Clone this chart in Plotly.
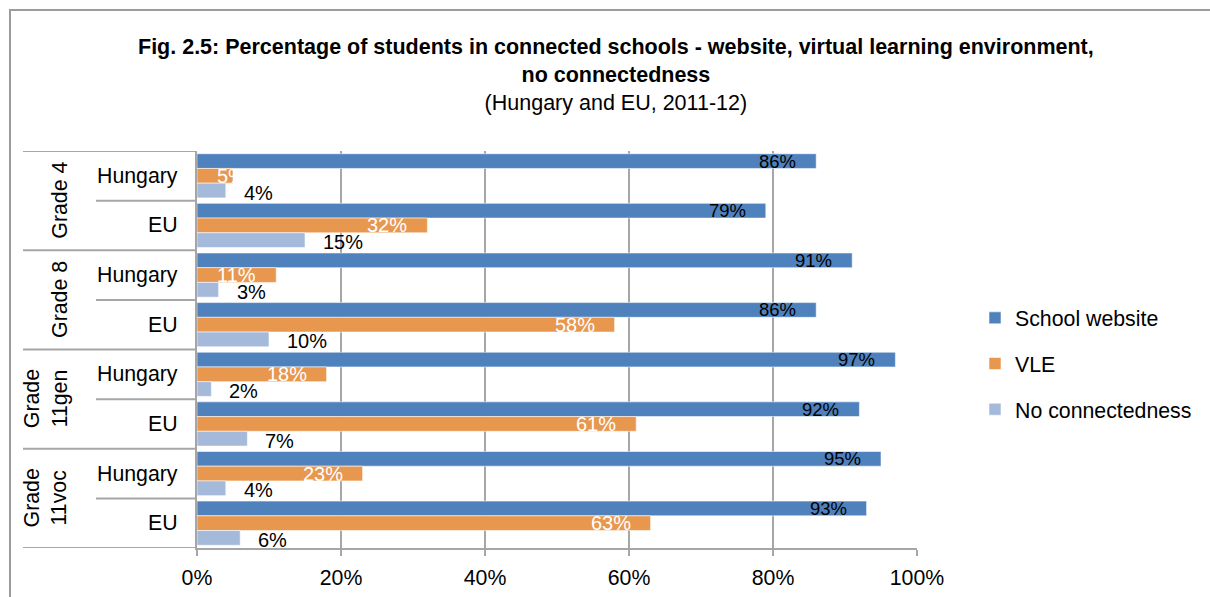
import plotly.graph_objects as go

# ---- data -------------------------------------------------------------
grades = ["Grade 4", "Grade 8", "Grade<br>11gen", "Grade<br>11voc"]
regions = ["Hungary", "EU"]
school_website = [86, 79, 91, 86, 97, 92, 95, 93]
vle = [5, 32, 11, 58, 18, 61, 23, 63]
no_connectedness = [4, 15, 3, 10, 2, 7, 4, 6]
x_ticks = [0, 20, 40, 60, 80, 100]
x_tick_text = [f"{t}%" for t in x_ticks]

series = [
    ("School website", school_website, "#4F81BD"),
    ("VLE", vle, "#E8974F"),
    ("No connectedness", no_connectedness, "#A5B9DB"),
]

FONT = "Liberation Sans, Arial, sans-serif"
W, H = 1210, 597
L, R, T, B = 197, 293, 151, 49
PW, PH = W - L - R, H - T - B
LBL = 21.3  # axis / category text size

def px_x(p):
    """pixel column -> paper x"""
    return (p - L) / PW

def px_y(p):
    """pixel row -> paper y"""
    return (H - B - p) / PH

# one category per grade/region row
rows = [f"{g}|{r}" for g in grades for r in regions]
n = len(rows)
bargap = 0.11
bw = (1 - bargap) / len(series)

fig = go.Figure()
for i, (name, vals, col) in enumerate(series):
    fig.add_trace(go.Bar(
        y=rows, x=vals, orientation="h", name=name,
        legendgroup=name,
        marker=dict(color=col, line=dict(color="rgba(255,255,255,0.55)", width=1)),
        hoverinfo="skip",
    ))

ann = []
# chart heading
ann.append(dict(
    text="<b>Fig. 2.5: Percentage of students in connected schools - website, virtual learning environment,"
         "<br>no connectedness</b><br>(Hungary and EU, 2011-12)",
    x=px_x(616), y=px_y(33), xref="paper", yref="paper",
    xanchor="center", yanchor="top", showarrow=False,
    font=dict(family=FONT, size=21.5, color="black"),
))
# data labels
for k in range(n):
    v = school_website[k]
    ann.append(dict(x=v, y=k - bw, xref="x", yref="y", text=f"{v}%",
                    showarrow=False, xanchor="right", xshift=-18,
                    font=dict(family=FONT, size=18.5, color="black")))
    v = vle[k]
    if v < 8:
        ann.append(dict(x=0, y=k, xref="x", yref="y", text=f"{v}%",
                        showarrow=False, xanchor="left", xshift=18,
                        font=dict(family=FONT, size=20, color="white")))
    else:
        ann.append(dict(x=v, y=k, xref="x", yref="y", text=f"{v}%",
                        showarrow=False, xanchor="right", xshift=-18,
                        font=dict(family=FONT, size=20, color="white")))
    v = no_connectedness[k]
    ann.append(dict(x=v, y=k + bw, xref="x", yref="y", text=f"{v}%",
                    showarrow=False, xanchor="left", xshift=16, yshift=-2,
                    font=dict(family=FONT, size=20, color="black")))

# category table labels
for gi, g in enumerate(grades):
    ann.append(dict(x=px_x(74), y=gi * 2 + 0.5, xref="paper", yref="y",
                    text=g, textangle=-90, showarrow=False, xanchor="right",
                    font=dict(family=FONT, size=LBL, color="black")))
    for ri, r in enumerate(regions):
        ann.append(dict(x=px_x(180), y=gi * 2 + ri, xref="paper", yref="y",
                        text=r, showarrow=False, xanchor="right",
                        font=dict(family=FONT, size=LBL, color="black")))

shapes = []
grey = "#a6a6a6"
for gi in range(len(grades) + 1):
    shapes.append(dict(type="line", xref="paper", yref="y",
                       x0=px_x(23), x1=0, y0=gi * 2 - 0.5, y1=gi * 2 - 0.5,
                       line=dict(color=grey, width=2)))
for gi in range(len(grades)):
    shapes.append(dict(type="line", xref="paper", yref="y",
                       x0=px_x(96), x1=0, y0=gi * 2 + 0.5, y1=gi * 2 + 0.5,
                       line=dict(color=grey, width=2)))
# chart frame
shapes.append(dict(type="rect", xref="paper", yref="paper",
                   x0=px_x(10), x1=px_x(1225), y0=px_y(612), y1=px_y(10),
                   line=dict(color="#9c9c9c", width=2), layer="below"))

fig.update_layout(
    width=W, height=H,
    margin=dict(l=L, r=R, t=T, b=B, pad=0),
    paper_bgcolor="white", plot_bgcolor="white",
    font=dict(family=FONT, size=20, color="black"),
    barmode="group", bargap=bargap, bargroupgap=0,
    xaxis=dict(range=[0, 100], tickmode="array", tickvals=x_ticks, ticktext=x_tick_text,
               showgrid=True, gridcolor=grey, gridwidth=2,
               showline=True, linecolor=grey, linewidth=2,
               ticks="outside", ticklen=6, tickcolor=grey, tickwidth=2,
               zeroline=False, ticklabelstandoff=3, automargin=False,
               tickfont=dict(family=FONT, size=LBL)),
    yaxis=dict(type="category", range=[n - 0.5, -0.5], automargin=False,
               showticklabels=False, showgrid=False, zeroline=False,
               showline=True, linecolor=grey, linewidth=2, ticks=""),
    legend=dict(x=px_x(975), y=px_y(364), xanchor="left", yanchor="middle",
                font=dict(family=FONT, size=LBL), tracegroupgap=15,
                itemwidth=30, bgcolor="rgba(0,0,0,0)"),
    annotations=ann, shapes=shapes, showlegend=True,
)

fig.write_html("out.html")
